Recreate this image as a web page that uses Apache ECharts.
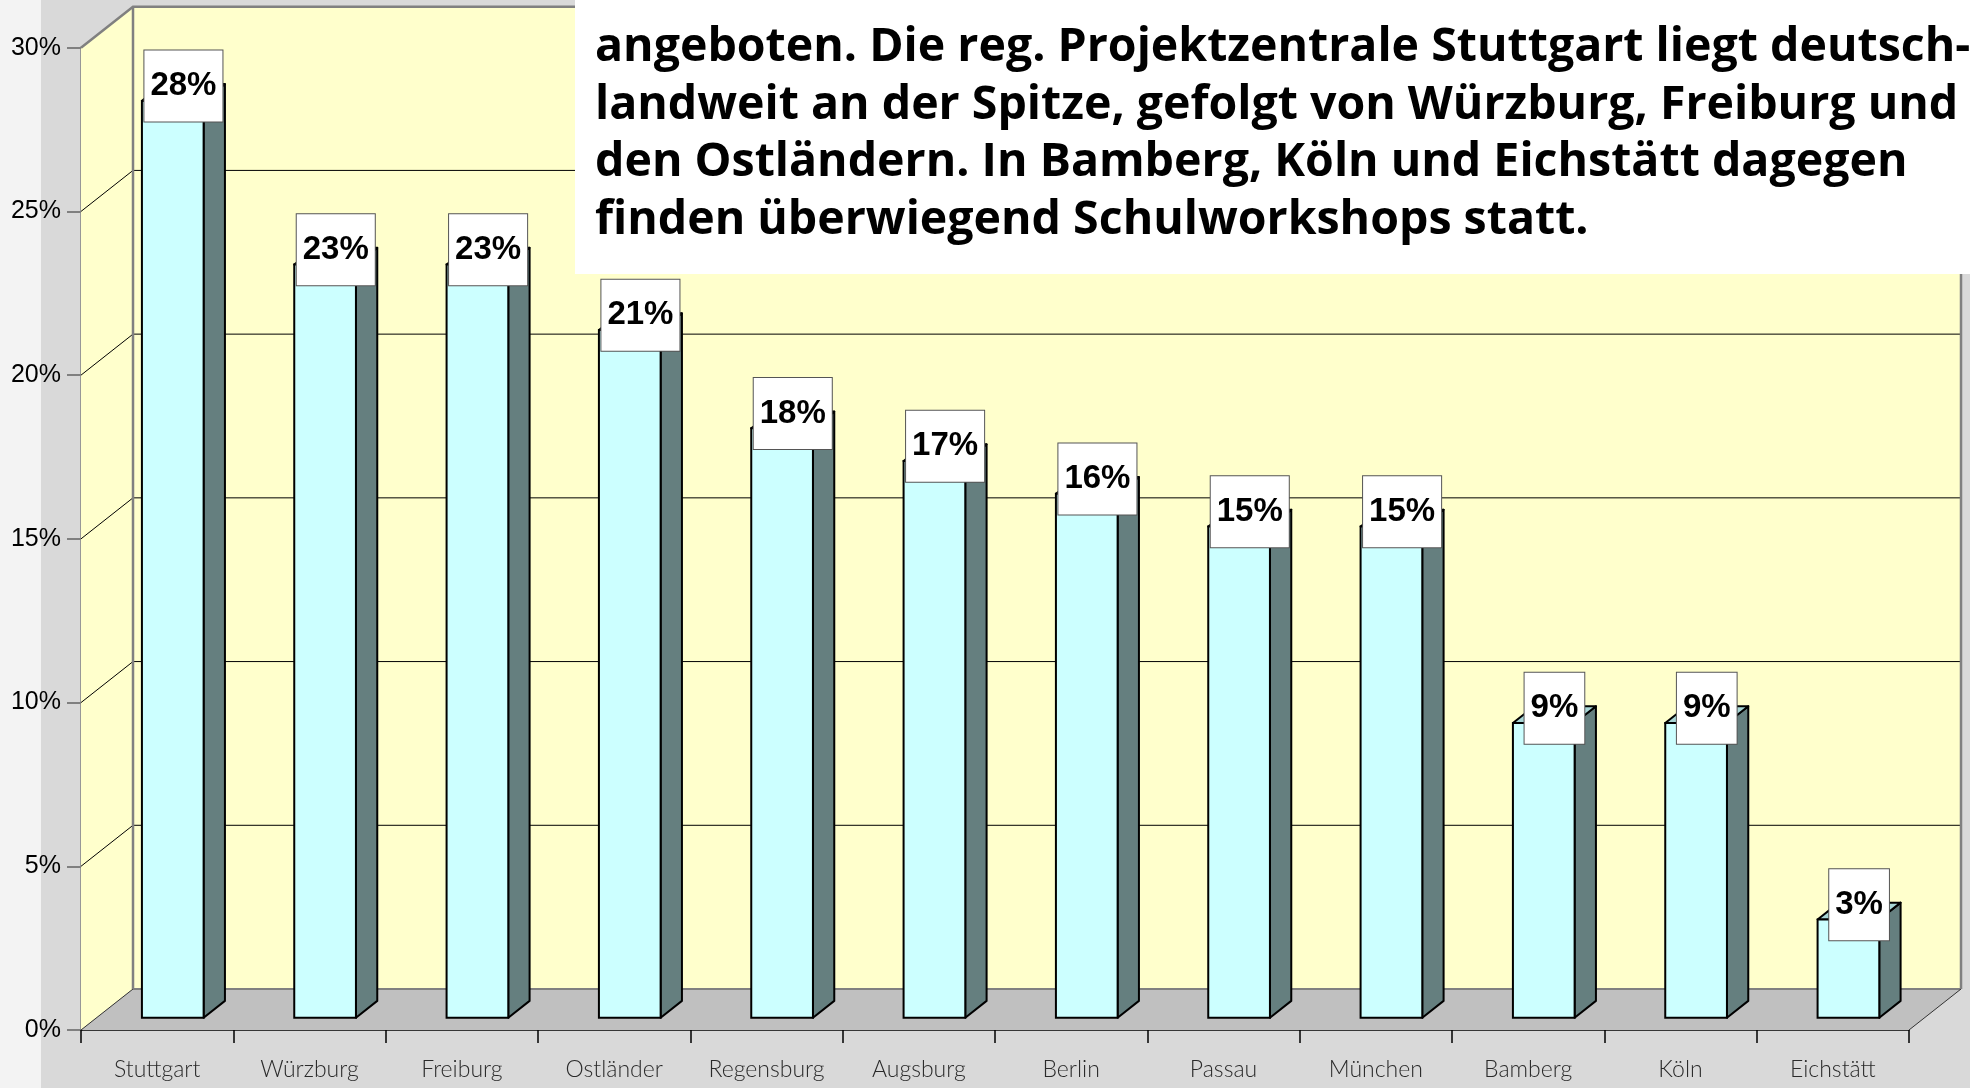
<!DOCTYPE html>
<html><head><meta charset="utf-8">
<script src="https://cdn.jsdelivr.net/npm/echarts@6/dist/echarts.min.js"></script>
<style>html,body{margin:0;padding:0;background:#d9d9d9;overflow:hidden}#c{width:1970px;height:1088px}</style>
</head><body><div id="c"></div>
<script>
const categories = ['Stuttgart','Würzburg','Freiburg','Ostländer','Regensburg','Augsburg','Berlin','Passau','München','Bamberg','Köln','Eichstätt'];
const shares = [28,23,23,21,18,17,16,15,15,9,9,3];
const yTicks = [0,5,10,15,20,25,30];
const noteLines = [
  'angeboten. Die reg. Projektzentrale Stuttgart liegt deutsch-',
  'landweit an der Spitze, gefolgt von Würzburg, Freiburg und',
  'den Ostländern. In Bamberg, Köln und Eichstätt dagegen',
  'finden überwiegend Schulworkshops statt.'
];

const DX = 52, DY = -41;      // depth of the 3D box
const Z0 = 0.3, Z1 = 0.71;    // bar depth span
const BAR_W = 0.405;          // share of category width

function renderWalls(params, api) {
  const cs = params.coordSys;
  const x0 = cs.x, x1 = cs.x + cs.width, yt = cs.y, yb = cs.y + cs.height;
  const ch = [];
  ch.push({type:'polygon', shape:{points:[[x0,yb],[x0,yt],[x0+DX,yt+DY],[x0+DX,yb+DY]]}, style:{fill:'#ffffcc'}});
  ch.push({type:'rect', shape:{x:x0+DX, y:yt+DY, width:cs.width, height:cs.height}, style:{fill:'#ffffcc'}});
  ch.push({type:'polygon', shape:{points:[[x0,yb],[x1,yb],[x1+DX,yb+DY],[x0+DX,yb+DY]]}, style:{fill:'#c0c0c0'}});
  yTicks.forEach(v => {
    const y = api.coord([0, v])[1];
    if (v > 0 && v < 30) {
      ch.push({type:'line', shape:{x1:x0+DX, y1:y+DY, x2:x1+DX, y2:y+DY}, style:{stroke:'#000', lineWidth:1}});
      ch.push({type:'line', shape:{x1:x0, y1:y, x2:x0+DX, y2:y+DY}, style:{stroke:'#000', lineWidth:1}});
    }
  });
  ch.push({type:'line', shape:{x1:x0+DX, y1:yb+DY, x2:x1+DX, y2:yb+DY}, style:{stroke:'#808080', lineWidth:2}});
  ch.push({type:'line', shape:{x1:x0, y1:yb, x2:x0+DX, y2:yb+DY}, style:{stroke:'#333', lineWidth:1}});
  ch.push({type:'line', shape:{x1:x1, y1:yb, x2:x1+DX, y2:yb+DY}, style:{stroke:'#333', lineWidth:1}});
  ch.push({type:'polyline', shape:{points:[[x0,yt],[x0+DX,yt+DY],[x1+DX,yt+DY],[x1+DX,yb+DY]]}, style:{stroke:'#808080', lineWidth:2.5, fill:null}});
  ch.push({type:'line', shape:{x1:x0+DX, y1:yt+DY, x2:x0+DX, y2:yb+DY}, style:{stroke:'#808080', lineWidth:2.5}});
  return {type:'group', children:ch};
}

function renderBar(params, api) {
  const i = api.value(0), v = api.value(1);
  const base = api.coord([i, 0]);
  const topP = api.coord([i, v]);
  const bw = api.size([1, 0])[0] * BAR_W;
  const cx = base[0] + Z0 * DX;
  const by = base[1] + Z0 * DY;
  const ty = by - (base[1] - topP[1]);
  const l = cx - bw / 2, r = cx + bw / 2;
  const ddx = (Z1 - Z0) * DX, ddy = (Z1 - Z0) * DY;
  return {type:'group', children:[
    {type:'polygon', shape:{points:[[r,by],[r,ty],[r+ddx,ty+ddy],[r+ddx,by+ddy]]}, style:{fill:'#657f7f', stroke:'#000', lineWidth:2, lineJoin:'round'}},
    {type:'polygon', shape:{points:[[l,ty],[r,ty],[r+ddx,ty+ddy],[l+ddx,ty+ddy]]}, style:{fill:'#a8d6d6', stroke:'#000', lineWidth:2, lineJoin:'round'}},
    {type:'rect', shape:{x:l, y:ty, width:bw, height:by-ty}, style:{fill:'#ccffff', stroke:'#000', lineWidth:2}},
    {type:'text', x: cx + ddx/2, y: ty + ddy + 2, z2: 10, style:{
      text: v + '%', font:'bold 33px "Liberation Sans", Arial, sans-serif', fill:'#000',
      align:'center', verticalAlign:'middle',
      backgroundColor:'#fff', borderColor:'#555', borderWidth:1, padding:[19, 6, 19, 6]
    }}
  ]};
}

const chart = echarts.init(document.getElementById('c'), null, {renderer:'canvas'});
chart.setOption({
  backgroundColor:'#d9d9d9',
  animation:false,
  grid:{left:81, right:61, top:47.7, bottom:58},
  xAxis:{type:'category', data:categories,
    axisLine:{show:true, lineStyle:{color:'#000', width:1.5}},
    axisTick:{show:true, length:13, alignWithLabel:false, lineStyle:{color:'#000', width:1.5}},
    axisLabel:{interval:0, margin:28, fontSize:23, fontWeight:300, color:'#2a2a2a', fontFamily:'Lato, "Open Sans", sans-serif'},
    splitLine:{show:false}},
  yAxis:{type:'value', min:0, max:30, interval:5,
    axisLine:{show:true, lineStyle:{color:'#808080', width:2.5}},
    axisTick:{show:true, length:14, lineStyle:{color:'#808080', width:2}},
    axisLabel:{margin:20, fontSize:25, color:'#000', fontFamily:'"Liberation Sans", Arial, sans-serif', formatter:'{value}%'},
    splitLine:{show:false}},
  graphic:[
    {type:'rect', z:-100, shape:{x:0, y:0, width:41, height:1088}, style:{fill:'#f3f3f3'}},
    {type:'rect', z:100, shape:{x:575, y:0, width:1395, height:274}, style:{fill:'#fff'}},
    ...noteLines.map((t, k) => ({type:'text', z:101, x:595, y:48 + k*57.5,
      style:{text:t, font:'bold 46.5px "Open Sans", sans-serif', fill:'#000', verticalAlign:'middle'}}))
  ],
  series:[
    {type:'custom', z:1, renderItem:renderWalls, data:[[0,0]], silent:true, clip:false},
    {type:'custom', z:3, renderItem:renderBar, encode:{x:0, y:1}, clip:false,
      data: shares.map((s, i) => [i, s])}
  ]
});
</script></body></html>
